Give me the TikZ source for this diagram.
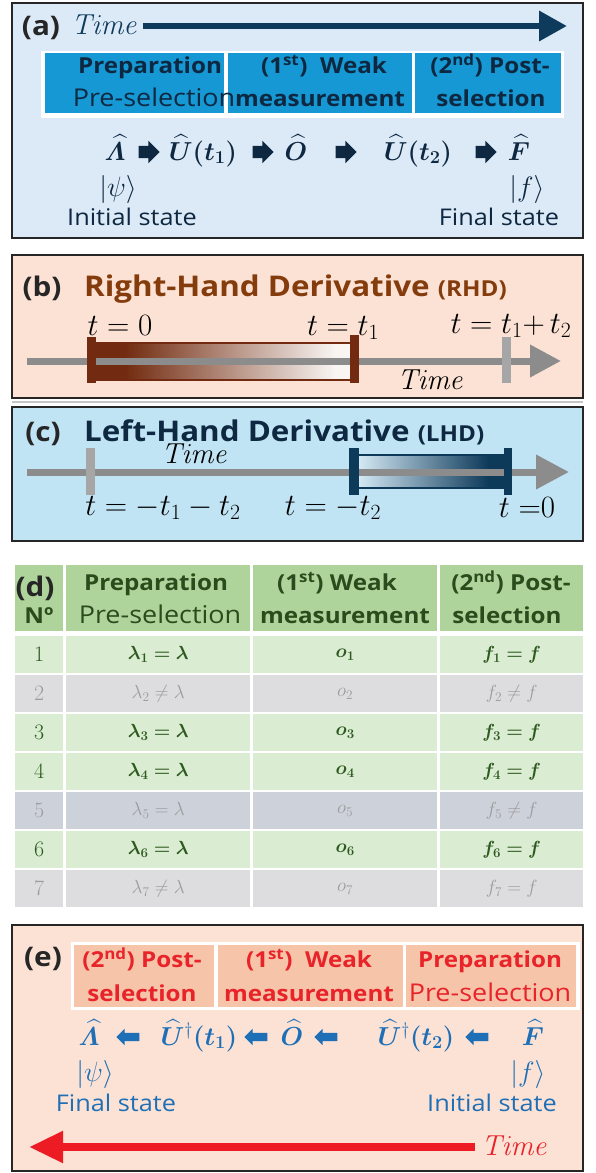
\RequirePackage{fix-cm}
\documentclass[tikz,border=0pt]{standalone}
\usepackage[no-math]{fontspec}
\setmainfont{Open Sans}[FakeStretch=1.1]
\usepackage{amsmath,bm}
\usetikzlibrary{arrows.meta,shapes.arrows}

\definecolor{frame}{HTML}{262626}
\definecolor{tagtxt}{HTML}{262626}
\definecolor{panelA}{HTML}{DCEAF7}
\definecolor{panelB}{HTML}{FBE2D5}
\definecolor{panelC}{HTML}{C1E4F5}
\definecolor{cellA}{HTML}{1598D3}
\definecolor{navy}{HTML}{0E2841}
\definecolor{timeA}{HTML}{0E3B5C}
\definecolor{brn}{HTML}{843C0C}
\definecolor{barbrn}{HTML}{722B10}
\definecolor{midbrn}{HTML}{A9602F}
\definecolor{cnavy}{HTML}{0E3A5A}
\definecolor{cband}{HTML}{D3E8F4}
\definecolor{cmid}{HTML}{7FA7C4}
\definecolor{axgray}{HTML}{8C8C8C}
\definecolor{tickgray}{HTML}{A6A6A6}
\definecolor{hdgreen}{HTML}{AFD49B}
\definecolor{rowgreen}{HTML}{DAECD2}
\definecolor{rowgray}{HTML}{DDDDDF}
\definecolor{rowslate}{HTML}{CDD1DA}
\definecolor{hdtxt}{HTML}{2A4B1C}
\definecolor{txtgreen}{HTML}{2E5A1F}
\definecolor{txtgray}{HTML}{9C9C9C}
\definecolor{cellE}{HTML}{F6C4A9}
\definecolor{redE}{HTML}{E8232A}
\definecolor{arrE}{HTML}{ED1C24}
\definecolor{blueE}{HTML}{1F6FB6}

\begin{document}
\begin{tikzpicture}[x=1pt,y=-1pt,
  panel/.style={draw=frame,line width=2pt},
  tag/.style={font=\fontsize{27}{27}\selectfont\bfseries,text=tagtxt,inner sep=0pt,anchor=base},
  hdb/.style={font=\fontsize{22}{22}\selectfont\bfseries,inner sep=0pt,anchor=base},
  hdr/.style={font=\fontsize{24.5}{24.5}\selectfont,inner sep=0pt,anchor=base},
  statetxt/.style={font=\fontsize{23}{23}\selectfont,inner sep=0pt,anchor=base},
  title/.style={font=\fontsize{28.5}{28.5}\selectfont\bfseries,inner sep=0pt,anchor=base west},
  mathlab/.style={font=\fontsize{31}{31}\selectfont,inner sep=0pt,anchor=base},
  timelab/.style={font=\fontsize{29}{29}\selectfont,inner sep=0pt,anchor=base},
  opnode/.style={font=\fontsize{26}{26}\selectfont,inner sep=0pt,anchor=base},
  ketnode/.style={font=\fontsize{28}{28}\selectfont,inner sep=0pt,anchor=base},
  cellbox/.style={inner sep=0pt,anchor=north west,draw=none},
  rowcell/.style={inner sep=0pt,anchor=north west,draw=none,minimum height=37pt,font=\fontsize{19}{19}\selectfont},
  greenrow/.style={rowcell,fill=rowgreen,text=txtgreen},
  grayrow/.style={rowcell,fill=rowgray,text=txtgray},
  slaterow/.style={rowcell,fill=rowslate,text=txtgray},
  colno/.style={minimum width=48pt,font=\fontsize{22}{22}\selectfont},
  colwide/.style={minimum width=184pt},
  collast/.style={minimum width=143pt},
  blkright/.style={single arrow,draw=none,fill=navy,inner xsep=0pt,inner ysep=6pt,minimum height=21pt,single arrow head extend=5pt},
  blkleft/.style={single arrow,shape border rotate=180,draw=none,fill=blueE,inner xsep=0pt,inner ysep=4pt,minimum height=23pt,single arrow head extend=4pt},
]
\useasboundingbox (0,0) rectangle (595,1173);
\fill[white] (0,0) rectangle (595,1173);
\draw[panel,fill=panelA] (12,3) rectangle (583,238);
\node[tag] (a-tag) at (41,35) {(a)};
\node[timelab,text=timeA] (a-time) at (105,34) {$\mathit{Time}$};
\coordinate (a-tip) at (567,26);
\draw[timeA,line width=6.5pt,-{Triangle[length=28pt,width=29pt]}] (a-time.east |- a-tip) ++(4,0) -- (a-tip);
\node[cellbox,fill=white,minimum width=523pt,minimum height=67pt] (a-hdr) at (41,51) {};
\node[cellbox,fill=cellA,minimum width=179pt,minimum height=60pt] (a-cell-0) at (45,53) {};
\node[cellbox,fill=cellA,minimum width=184pt,minimum height=60pt] (a-cell-1) at (228,53) {};
\node[cellbox,fill=cellA,minimum width=146pt,minimum height=60pt] (a-cell-2) at (415,53) {};
\node[hdb,text=navy] (a-prep) at (150,73) {Preparation};
\node[hdr,text=navy] (a-pre) at (154,106) {Pre-selection};
\node[hdb,text=navy] (a-weak) at (324,73) {(1\textsuperscript{st})\ \ Weak};
\node[hdb,text=navy] (a-meas) at (320,106) {measurement};
\node[hdb,text=navy] (a-post) at (490,73) {(2\textsuperscript{nd}) Post-};
\node[hdb,text=navy] (a-sel) at (491,106) {selection};
\node[opnode,text=navy] (a-lam) at (115,160) {$\bm{\widehat{\varLambda}}$};
\node[blkright] (a-arr-0) at (146,152) {};
\node[opnode,text=navy] (a-u1) at (203,160) {$\bm{\widehat{U}(t_1)}$};
\node[blkright] (a-arr-1) at (260,152) {};
\node[opnode,text=navy] (a-obs) at (296,160) {$\bm{\widehat{O}}$};
\node[blkright] (a-arr-2) at (343,152) {};
\node[opnode,text=navy] (a-u2) at (418,160) {$\bm{\widehat{U}(t_2)}$};
\node[blkright] (a-arr-3) at (483,152) {};
\node[opnode,text=navy] (a-fin) at (519,160) {$\bm{\widehat{F}}$};
\node[ketnode,text=navy] (a-psi) at (118,196) {$|\psi\rangle$};
\node[ketnode,text=navy] (a-f) at (527,196) {$|f\rangle$};
\node[statetxt,text=navy] (a-init) at (132,225) {Initial state};
\node[statetxt,text=navy] (a-final) at (499,225) {Final state};
\draw[panel,fill=panelB] (12,255) rectangle (583,398);
\node[tag] (b-tag) at (42,296) {(b)};
\node[title,text=brn] (b-title) at (84,296) {Right-Hand Derivative {\fontsize{22}{22}\selectfont(RHD)}};
\node[mathlab,text=black] (b-t0) at (120,335) {$t = 0$};
\node[mathlab,text=black] (b-t1) at (343,335) {$t = t_1$};
\node[mathlab,text=black] (b-t12) at (511,333) {$t = t_1{+}\,t_2$};
\fill[barbrn] (95,343) rectangle (125,380);
\shade[left color=barbrn,middle color=midbrn,right color=white!95!brn] (125,343) rectangle (335,380);
\fill[white!95!brn] (335,343) rectangle (350,380);
\draw[barbrn,line width=2pt] (95,343) -- (350,343) (95,380) -- (350,380);
\coordinate (b-start) at (27,361);
\coordinate (b-end) at (561,361);
\draw[axgray,line width=7pt,-{Triangle[length=31pt,width=31pt]}] (b-start) -- (b-end);
\fill[barbrn] (87,337) rectangle (96,383);
\fill[barbrn] (350,335) rectangle (359,383);
\fill[tickgray] (502,337) rectangle (511,383);
\node[timelab,text=black] (b-time) at (431,389) {$\mathit{Time}$};
\draw[gray!45,line width=1.5pt] (12,402) -- (583,402);
\draw[panel,fill=panelC] (12,407) rectangle (583,541);
\node[tag] (c-tag) at (43,441) {(c)};
\node[title,text=navy] (c-title) at (84,441) {Left-Hand Derivative {\fontsize{22}{22}\selectfont(LHD)}};
\node[timelab,text=black] (c-time) at (195,463) {$\mathit{Time}$};
\shade[left color=cband,middle color=cmid,right color=cnavy] (359,455) rectangle (488,488);
\fill[cnavy] (488,455) rectangle (504,488);
\draw[cnavy,line width=2pt] (359,455) -- (504,455) (359,488) -- (504,488);
\coordinate (c-start) at (27,472);
\coordinate (c-end) at (569,472);
\draw[axgray,line width=7pt,-{Triangle[length=33pt,width=33pt]}] (c-start) -- (c-end);
\fill[tickgray] (86,448) rectangle (95,495);
\fill[cnavy] (349,448) rectangle (359,495);
\fill[cnavy] (504,448) rectangle (512,495);
\node[mathlab,text=black] (c-t12) at (163,515) {$t = -t_1 - t_2$};
\node[mathlab,text=black] (c-t2) at (333,515) {$t = -t_2$};
\node[mathlab,text=black] (c-t0) at (527,517) {$t\;{=}0$};
\node[cellbox,fill=hdgreen,minimum width=48pt,minimum height=66pt] (d-hd-0) at (15,565) {};
\node[cellbox,fill=hdgreen,minimum width=184pt,minimum height=66pt] (d-hd-1) at (66,565) {};
\node[cellbox,fill=hdgreen,minimum width=184pt,minimum height=66pt] (d-hd-2) at (253,565) {};
\node[cellbox,fill=hdgreen,minimum width=143pt,minimum height=66pt] (d-hd-3) at (440,565) {};
\node[tag] (d-tag) at (35,596) {(d)};
\node[hdb,text=hdtxt] (d-no) at (39,623) {Nº};
\node[hdb,text=hdtxt] (d-prep) at (156,590) {Preparation};
\node[hdr,text=hdtxt] (d-pre) at (160,623) {Pre-selection};
\node[hdb,text=hdtxt] (d-weak) at (337,590) {(1\textsuperscript{st}) Weak};
\node[hdb,text=hdtxt] (d-meas) at (345,623) {measurement};
\node[hdb,text=hdtxt] (d-post) at (511,590) {(2\textsuperscript{nd}) Post-};
\node[hdb,text=hdtxt] (d-sel) at (507,623) {selection};
\node[greenrow,colno] (r1-no) at (15,636) {$1$};
\node[greenrow,colwide] (r1-lam) at (66,636) {$\bm{\lambda_1 = \lambda}$};
\node[greenrow,colwide] (r1-obs) at (253,636) {$\bm{o_1}$};
\node[greenrow,collast] (r1-fin) at (440,636) {$\bm{f_1 = f}$};
\node[grayrow,colno] (r2-no) at (15,675) {$2$};
\node[grayrow,colwide] (r2-lam) at (66,675) {$\lambda_2 \neq \lambda$};
\node[grayrow,colwide] (r2-obs) at (253,675) {$o_2$};
\node[grayrow,collast] (r2-fin) at (440,675) {$f_2 \neq f$};
\node[greenrow,colno] (r3-no) at (15,714) {$3$};
\node[greenrow,colwide] (r3-lam) at (66,714) {$\bm{\lambda_3 = \lambda}$};
\node[greenrow,colwide] (r3-obs) at (253,714) {$\bm{o_3}$};
\node[greenrow,collast] (r3-fin) at (440,714) {$\bm{f_3 = f}$};
\node[greenrow,colno] (r4-no) at (15,753) {$4$};
\node[greenrow,colwide] (r4-lam) at (66,753) {$\bm{\lambda_4 = \lambda}$};
\node[greenrow,colwide] (r4-obs) at (253,753) {$\bm{o_4}$};
\node[greenrow,collast] (r4-fin) at (440,753) {$\bm{f_4 = f}$};
\node[slaterow,colno] (r5-no) at (15,792) {$5$};
\node[slaterow,colwide] (r5-lam) at (66,792) {$\lambda_5 = \lambda$};
\node[slaterow,colwide] (r5-obs) at (253,792) {$o_5$};
\node[slaterow,collast] (r5-fin) at (440,792) {$f_5 \neq f$};
\node[greenrow,colno] (r6-no) at (15,831) {$6$};
\node[greenrow,colwide] (r6-lam) at (66,831) {$\bm{\lambda_6 = \lambda}$};
\node[greenrow,colwide] (r6-obs) at (253,831) {$\bm{o_6}$};
\node[greenrow,collast] (r6-fin) at (440,831) {$\bm{f_6 = f}$};
\node[grayrow,colno] (r7-no) at (15,870) {$7$};
\node[grayrow,colwide] (r7-lam) at (66,870) {$\lambda_7 \neq \lambda$};
\node[grayrow,colwide] (r7-obs) at (253,870) {$o_7$};
\node[grayrow,collast] (r7-fin) at (440,870) {$f_7 = f$};
\draw[panel,fill=panelB] (12,925) rectangle (583,1171);
\node[tag] (e-tag) at (43,966) {(e)};
\node[cellbox,fill=white,minimum width=509pt,minimum height=68pt] (e-hdr) at (71,942) {};
\node[cellbox,fill=cellE,minimum width=140pt,minimum height=62pt] (e-cell-0) at (74,945) {};
\node[cellbox,fill=cellE,minimum width=185pt,minimum height=62pt] (e-cell-1) at (218,945) {};
\node[cellbox,fill=cellE,minimum width=170pt,minimum height=62pt] (e-cell-2) at (406,945) {};
\node[hdb,text=redE] (e-post) at (142,967) {(2\textsuperscript{nd}) Post-};
\node[hdb,text=redE] (e-sel) at (142,1001) {selection};
\node[hdb,text=redE] (e-weak) at (309,967) {(1\textsuperscript{st})\ \ Weak};
\node[hdb,text=redE] (e-meas) at (309,1001) {measurement};
\node[hdb,text=redE] (e-prep) at (490,967) {Preparation};
\node[hdr,text=redE] (e-pre) at (490,1001) {Pre-selection};
\node[opnode,text=blueE] (e-lam) at (89,1045) {$\bm{\widehat{\varLambda}}$};
\node[blkleft] (e-arr-0) at (130,1037) {};
\node[opnode,text=blueE] (e-u1) at (199,1045) {$\bm{\widehat{U}}^{\dagger}\bm{(t_1)}$};
\node[blkleft] (e-arr-1) at (258,1037) {};
\node[opnode,text=blueE] (e-obs) at (292,1045) {$\bm{\widehat{O}}$};
\node[blkleft] (e-arr-2) at (328,1037) {};
\node[opnode,text=blueE] (e-u2) at (416,1045) {$\bm{\widehat{U}}^{\dagger}\bm{(t_2)}$};
\node[blkleft] (e-arr-3) at (479,1037) {};
\node[opnode,text=blueE] (e-fin) at (533,1045) {$\bm{\widehat{F}}$};
\node[ketnode,text=blueE] (e-psi) at (95,1081) {$|\psi\rangle$};
\node[ketnode,text=blueE] (e-f) at (528,1081) {$|f\rangle$};
\node[statetxt,text=blueE] (e-final) at (116,1111) {Final state};
\node[statetxt,text=blueE] (e-init) at (492,1111) {Initial state};
\node[timelab,text=redE] (e-time) at (515,1155) {$\mathit{Time}$};
\coordinate (e-tip) at (29,1147);
\draw[arrE,line width=8pt,-{Triangle[length=34pt,width=30pt]}] (e-time.west |- e-tip) ++(-6,0) -- (e-tip);
\end{tikzpicture}
\end{document}
